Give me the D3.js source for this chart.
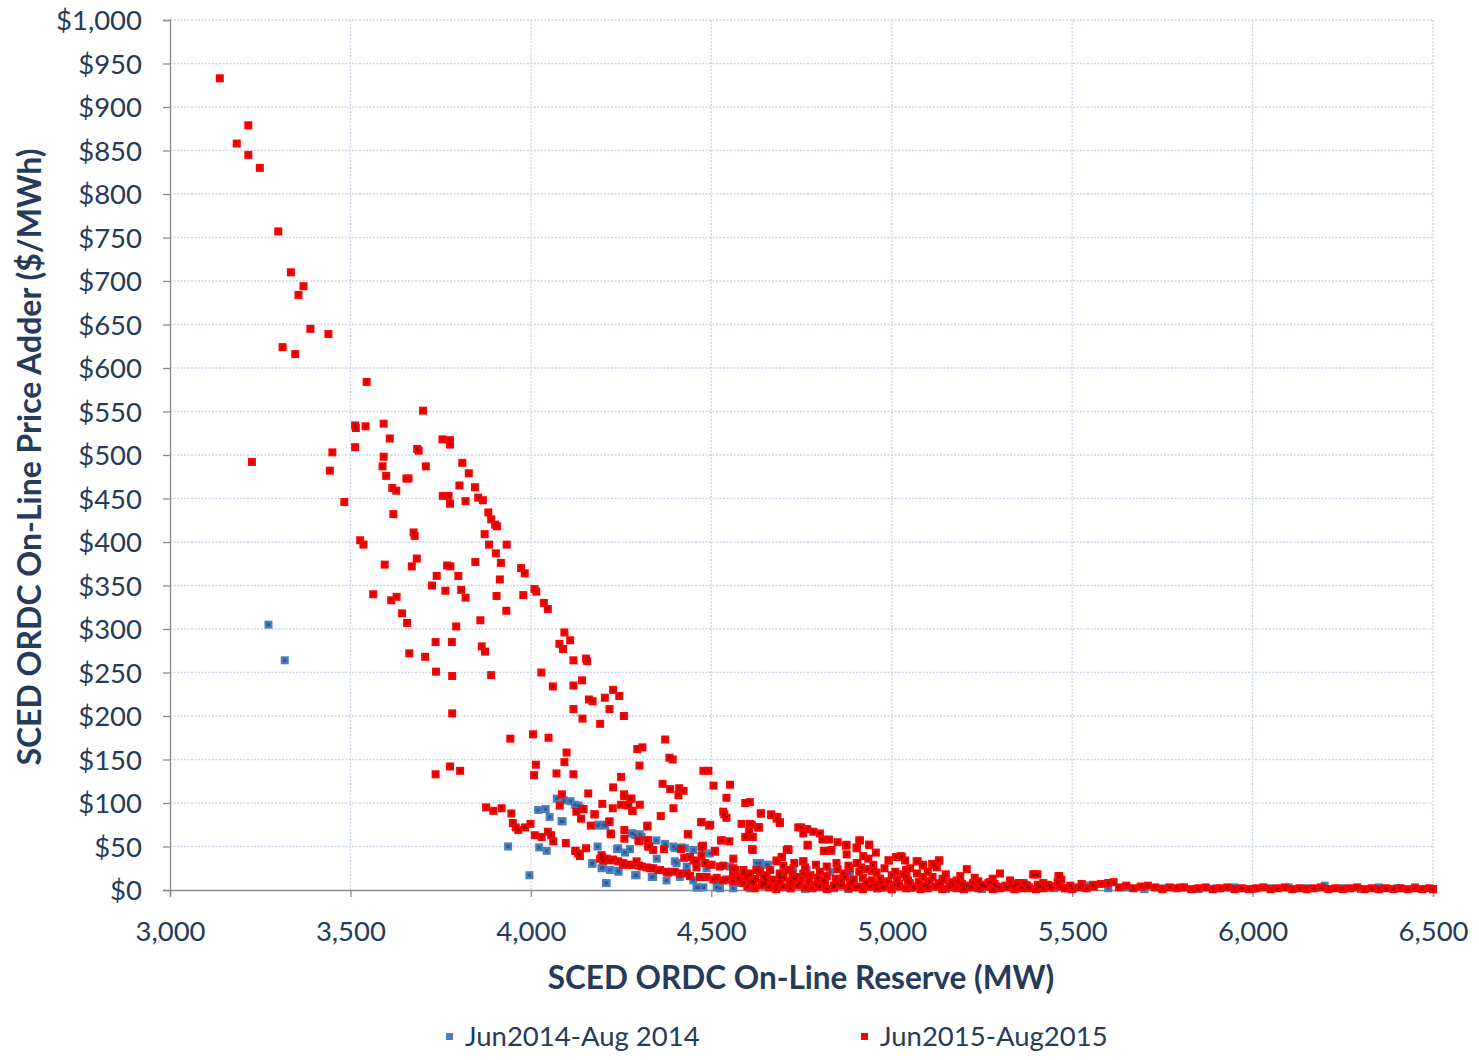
<!DOCTYPE html>
<html>
<head>
<meta charset="utf-8">
<script src="https://cdn.jsdelivr.net/npm/d3@7"></script>
<style>
  body { margin: 0; background: #fff; }
  svg { display: block; }
  text { font-family: Lato, "Open Sans", sans-serif; fill: #253b59; }
</style>
</head>
<body>
<svg id="chart" width="1479" height="1060"></svg>
<script>
// Jun2014-Aug 2014 : [on-line reserve MW, price adder $/MWh]
const blue2014 = [
  [3273,305],[3318,264],[3937,50],[3996,17],[4020,92],[4041,93],[4052,84],[4072,105],[4092,103],[4110,102],
  [4085,79],[4023,49],[4044,45],[4132,97],[4122,98],[4136,94],[4088,79],[4185,74],[4206,74],[4187,75],
  [4201,75],[4185,50],[4170,30],[4200,26],[4208,8],[4239,47],[4275,47],[4282,65],[4302,64],[4279,65],
  [4289,63],[4307,61],[4325,57],[4348,57],[4372,53],[4395,50],[4418,49],[4450,46],[4474,44],[4242,48],
  [4261,43],[4171,31],[4196,25],[4219,23],[4242,22],[4243,21],[4293,17],[4289,17],[4339,15],[4335,15],
  [4349,36],[4399,33],[4399,48],[4427,48],[4404,31],[4413,15],[4432,27],[4487,25],[4496,42],[4459,31],
  [4210,8],[4376,11],[4459,3],[4478,3],[4464,3],[4515,3],[4524,2],[4552,27],[4561,2],[4580,8],
  [4607,2],[4635,27],[4635,31],[4658,29],[4663,4],[4700,3],[4450,11],[4515,10],[4626,31],[4653,29],
  [4727,25],[4764,23],[4829,21],[4884,19]
];
const blueBase = [
  [4720,2],[4760,1],[4800,3],[4840,2],[4880,1],[4920,3],[4960,2],[5000,1],[5050,2],[5100,3],
  [5150,1],[5200,2],[5250,1],[5300,3],[5350,2],[5400,1],[5450,2],[5500,3],[5550,5],[5600,2],
  [5650,3],[5700,1],[5750,2],[5800,3],[5850,1],[5900,2],[5950,3],[6000,1],[6050,2],[6100,3],
  [6150,2],[6200,5],[6250,2],[6300,1],[6350,3],[6400,2],[6450,3],[6500,1]
];

// Jun2015-Aug2015
const red2015 = [
  [3138,933],[3185,858],[3217,879],[3217,845],[3249,830],[3300,757],[3335,710],[3370,694],[3356,684],[3389,645],
  [3439,639],[3312,624],[3347,616],[3227,492],
  [3545,584],[3701,551],[3513,534],[3515,531],[3542,533],[3592,536],[3609,519],[3450,503],[3513,509],[3443,482],
  [3592,498],[3589,487],[3599,476],[3616,462],[3627,459],[3655,473],[3661,473],[3685,507],[3689,505],[3709,487],
  [3755,518],[3776,517],[3776,512],[3810,491],[3828,479],[3802,465],[3845,463],[3854,451],[3867,448],[3756,453],
  [3772,453],[3776,444],[3819,447],[3882,434],[3890,426],[3901,420],[3906,418],[3872,409],[3884,397],[3933,397],
  [3903,387],[3917,376],[3914,357],[3973,370],[3983,364],[4010,346],[4015,343],[3979,339],[4036,330],[4047,323],
  [3483,446],[3619,432],[3675,411],[3678,407],[3527,402],[3536,397],[3595,374],[3684,381],[3670,372],[3768,373],
  [3777,372],[3846,377],[3739,361],[3799,361],[3726,350],[3763,344],[3807,345],[3819,336],[3905,338],[3932,321],
  [3563,340],[3613,333],[3628,337],[3643,318],[3657,307],[3860,310],[3793,303],[4093,296],[4109,287],[4079,283],
  [4089,277],[4118,264],[4153,266],[3736,285],[3781,285],[3864,280],[3873,274],[3663,272],[3707,268],[3737,251],
  [4156,263],[3782,246],[3890,247],[4029,250],[4142,241],[4118,235],[4061,234],[4228,230],[4205,221],[4245,223],
  [4161,219],[4171,217],[4118,208],[4218,208],[4143,197],[4258,200],[4192,191],[3782,203],[3943,174],[4006,179],
  [4049,175],[4372,173],[4295,162],[4309,164],[4384,152],[4393,150],[4301,143],[4099,158],[4093,147],[4014,144],
  [4009,132],[4071,134],[4118,133],[4250,130],[3776,142],[3804,137],[3736,133],[4478,137],[4492,137],[4506,120],
  [4552,121],[4365,122],[4386,116],[4411,117],[4423,114],[4409,109],[4228,118],[4258,110],[4275,105],[4159,111],
  [4086,110],[4080,97],[4198,99],[4227,94],[4250,98],[4265,98],[4282,91],[4302,98],[4395,94],[4360,85],
  [4542,106],[4594,100],[4533,90],[4542,83],[4637,88],[4666,87],[4683,84],[4690,78],[4584,76],[4607,76],
  [4630,72],[4594,61],[4614,61],[4741,72],[4613,47],[4713,47],[4695,38],[4435,64],[4472,78],[4494,74],
  [4473,50],[4510,45],[4527,57],[4550,56],[4323,73],[4259,69],[4259,59],[4222,64],[4298,57],[4324,57],
  [4328,50],[4369,47],[4218,79],[4166,74],[4177,87],[4146,93],[4126,90],[4139,82],[3876,95],[3896,91],
  [3919,94],[3946,88],[3950,77],[3958,72],[3965,69],[3984,72],[3999,76],[4011,63],[4030,61],[4047,67],
  [4056,63],[4062,56],[4097,54],[4123,45],[4131,42],[4153,48],[4259,108],[4279,105],[4270,97],[4281,91],
  [4145,93],[4176,87],[4217,78],[4221,65],[4300,56],[4323,74],[4124,45],[4136,39],[4198,38],[4323,57],
  [4325,50],[4339,46],[4416,47],[4436,64],[4473,78],[4497,75],[4477,51],[4529,57],[4536,87],[4632,72],
  [4605,67],[4596,61],
  // lower band 4200-4700
  [4192,36],[4201,34],[4219,34],[4242,33],[4256,29],[4270,29],[4293,33],[4300,28],[4321,26],[4339,25],
  [4358,23],[4376,21],[4399,21],[4425,37],[4432,19],[4451,34],[4459,26],[4473,39],[4468,15],[4487,15],
  [4501,29],[4510,44],[4515,14],[4533,28],[4542,12],[4561,36],[4566,23],[4580,10],[4589,23],[4607,19],
  [4616,10],[4635,21],[4644,8],[4663,23],[4672,11],[4681,34],
  [4196,40],[4210,36],[4228,35],[4256,31],[4279,29],[4307,27],[4330,25],[4353,23],[4381,20],[4413,19],
  [4441,16],[4473,15],[4506,12],[4533,11],[4561,10],[4589,8],[4616,8],[4649,7],[4681,6],[4718,6],
  [4441,38],[4459,33],[4483,31],[4524,27],[4561,25],[4589,19],[4625,23],[4653,17],[4690,15],[4709,23],
  [4736,15],
  // 4600-5500
  [4607,101],[4638,88],[4666,86],[4681,82],[4690,77],[4612,75],[4632,72],[4615,61],[4615,46],[4749,72],
  [4755,65],[4766,70],[4783,67],[4801,65],[4808,58],[4826,58],[4850,55],[4873,51],[4875,41],[4767,51],
  [4815,45],[4831,45],[4714,46],[4696,38],[4912,57],[4903,49],[4938,52],[4921,39],[4935,36],[4956,43],
  [4905,31],[4932,24],[4755,33],[4801,21],[4992,34],[5012,38],[5025,39],[5037,34],[5051,25],[5072,33],
  [5086,28],[5112,30],[5131,34],[5125,26],[5208,24],[5300,19],[5397,18],[5404,18],[5464,16],[5000,17],
  [5032,18],[5113,15],[5141,13],[5183,10],[5240,10],[5268,8],[5328,11],[5351,8],[5432,6],[5528,6],
  [4709,46],[4681,33],[4755,33],[4767,52],[4812,45],[4833,46],[4875,52],[4910,57],[4903,48],[4937,52],
  [4903,31],[4910,21],[4991,34],[5028,38],[5069,33],[5087,29],[5115,29],[5132,34],[5392,18],[5462,16],
  [4866,19],[4958,20],[5041,15],[5087,15],[5143,12],[5180,11],[5272,9],[5365,8],[5420,8],[5526,7],
  [5558,6],[4755,19],[4718,23],[4690,19],[4847,31],[4884,25],[4949,29],
  [4720,10],[4745,8],[4770,12],[4790,6],[4815,9],[4840,5],[4860,11],[4885,7],[4910,4],[4930,9],
  [4955,6],[4975,3],[5020,7],[5060,4],[5100,6],[5160,4],[5200,3],[5250,5],[5300,3],[5340,4],
  [5380,2],[5440,3],[5480,2],
  [4560,18],[4575,14],[4598,16],[4622,13],[4645,15],[4668,12],[4700,14],[4725,18],[4748,13],[4775,17],
  [4795,14],[4820,16],[4845,13],[4870,15],[4895,12],[4920,14],[4945,11],[4968,13],[4990,10],[5015,12],
  [5045,11],[5075,9],[5105,10],[5135,8],[5165,9],[5195,7],[5225,8],[5255,6],[5285,7],[5315,5],
  [5345,7],[5375,5],[5405,6],[5435,5],[5465,4],[5495,5],
  [4700,28],[4730,31],[4760,26],[4790,29],[4820,27],[4850,24],[4880,28],[4915,26],[4945,22],[4980,25],
  [5010,21],[5040,23],[5070,19],[5100,21],[5150,18],[5190,16],[5230,14],[5280,13]
];
const redBase = [
  [4600,4],[4620,2],[4640,5],[4660,3],[4680,1],[4700,4],[4720,2],[4740,5],[4760,3],[4780,2],
  [4800,4],[4820,1],[4840,3],[4860,5],[4880,2],[4900,3],[4920,1],[4940,4],[4960,2],[4980,3],
  [5000,1],[5020,4],[5040,2],[5060,3],[5080,1],[5100,2],[5120,4],[5140,1],[5160,3],[5180,2],
  [5200,1],[5220,3],[5240,2],[5260,4],[5280,1],[5300,2],[5320,3],[5340,1],[5360,2],[5380,3],
  [5400,1],[5420,2],[5440,4],[5460,9],[5470,12],[5480,2],[5500,1],[5520,3],[5540,2],[5560,4],
  [5580,7],[5600,8],[5615,9],[5630,3],[5650,5],[5670,2],[5690,4],[5710,5],[5730,3],[5750,1],
  [5770,3],[5790,2],[5810,3],[5830,1],[5850,2],[5870,3],[5890,1],[5910,2],[5930,3],[5950,1],
  [5970,2],[5990,1],[6010,2],[6030,3],[6050,1],[6070,2],[6090,3],[6110,1],[6130,2],[6150,1],
  [6170,2],[6190,3],[6210,1],[6230,2],[6250,1],[6270,2],[6290,3],[6310,1],[6330,2],[6350,1],
  [6370,2],[6390,1],[6410,2],[6430,1],[6450,2],[6470,1],[6490,2],[6500,1],
  [4610,9],[4650,12],[4690,10],[4730,13],[4770,9],[4810,11],[4850,8],[4890,10],[4930,7],[4970,9],
  [5010,6],[5050,8],[5090,5],[5130,7],[5170,6],[5210,5],[5250,6],[5290,4],[5330,5],[5370,6],[5410,4]
];

const xTicks = [3000, 3500, 4000, 4500, 5000, 5500, 6000, 6500];
const yTicks = d3.range(0, 1001, 50);
const seriesNames = ['Jun2014-Aug 2014', 'Jun2015-Aug2015'];
const seriesColors = ['#4a7ebb', '#ff0000'];
const innerColors = ['#2d5a93', '#b00000'];

const svg = d3.select('#chart');
const plot = { left: 170, right: 1433, top: 20, bottom: 890 };

const x = d3.scaleLinear().domain([3000, 6500]).range([plot.left, plot.right]);
const y = d3.scaleLinear().domain([0, 1000]).range([plot.bottom, plot.top]);

// Gridlines
const grid = svg.append('g');
grid.selectAll('line.h')
    .data(yTicks.slice(1))
    .enter()
    .append('line')
    .attr('x1', plot.left).attr('x2', plot.right)
    .attr('y1', d => y(d)).attr('y2', d => y(d))
    .attr('stroke', '#c9d4ea')
    .attr('stroke-width', 1.3)
    .attr('stroke-dasharray', '2,1.5');
grid.selectAll('line.v')
    .data(xTicks.slice(1))
    .enter()
    .append('line')
    .attr('x1', d => x(d)).attr('x2', d => x(d))
    .attr('y1', plot.top).attr('y2', plot.bottom)
    .attr('stroke', '#c9d4ea')
    .attr('stroke-width', 1.3)
    .attr('stroke-dasharray', '2,1.5');

// Axes
const yAxis = svg.append('g')
    .attr('transform', `translate(${plot.left},0)`)
    .call(d3.axisLeft(y).tickValues(yTicks).tickSize(7).tickPadding(21)
        .tickFormat(d => '$' + d3.format(',')(d)));
const xAxis = svg.append('g')
    .attr('transform', `translate(0,${plot.bottom})`)
    .call(d3.axisBottom(x).tickValues(xTicks).tickSize(7).tickPadding(24)
        .tickFormat(d3.format(',')));

[yAxis, xAxis].forEach(a => {
    a.select('.domain').attr('stroke', '#8c8c8c').attr('stroke-width', 1.3);
    a.selectAll('.tick line').attr('stroke', '#8c8c8c').attr('stroke-width', 1.3);
    a.selectAll('.tick text').attr('font-size', '27.5px').attr('fill', '#253b59')
        .style('font-family', 'Lato, sans-serif');
});
yAxis.selectAll('.tick text').attr('dy', '0.36em');

// Points
function drawSeries(data, i) {
    const g = svg.append('g');
    g.selectAll('rect.o')
        .data(data)
        .enter()
        .append('rect')
        .attr('x', d => x(d[0]) - 4)
        .attr('y', d => y(d[1]) - 4)
        .attr('width', 8)
        .attr('height', 8)
        .attr('fill', seriesColors[i]);
    g.selectAll('rect.i')
        .data(data)
        .enter()
        .append('rect')
        .attr('x', d => x(d[0]) - 1.5)
        .attr('y', d => y(d[1]) - 1.5)
        .attr('width', 3)
        .attr('height', 3)
        .attr('fill', innerColors[i]);
}
drawSeries(blueBase.concat(blue2014), 0);
drawSeries(redBase.concat(red2015), 1);

// Axis titles
svg.append('text')
    .attr('x', 801).attr('y', 989)
    .attr('text-anchor', 'middle')
    .attr('font-size', '31.5px')
    .attr('font-weight', 'bold')
    .text('SCED ORDC On-Line Reserve (MW)');
svg.append('text')
    .attr('transform', 'translate(41,457) rotate(-90)')
    .attr('text-anchor', 'middle')
    .attr('font-size', '32px')
    .attr('font-weight', 'bold')
    .text('SCED ORDC On-Line Price Adder ($/MWh)');

// Legend
const legendX = [446, 861];
const legend = svg.append('g');
seriesNames.forEach((name, i) => {
    legend.append('rect')
        .attr('x', legendX[i]).attr('y', 1033)
        .attr('width', 7).attr('height', 7)
        .attr('fill', seriesColors[i]);
    legend.append('text')
        .attr('x', legendX[i] + 19).attr('y', 1046)
        .attr('font-size', '27.5px')
        .text(name);
});
</script>
</body>
</html>
